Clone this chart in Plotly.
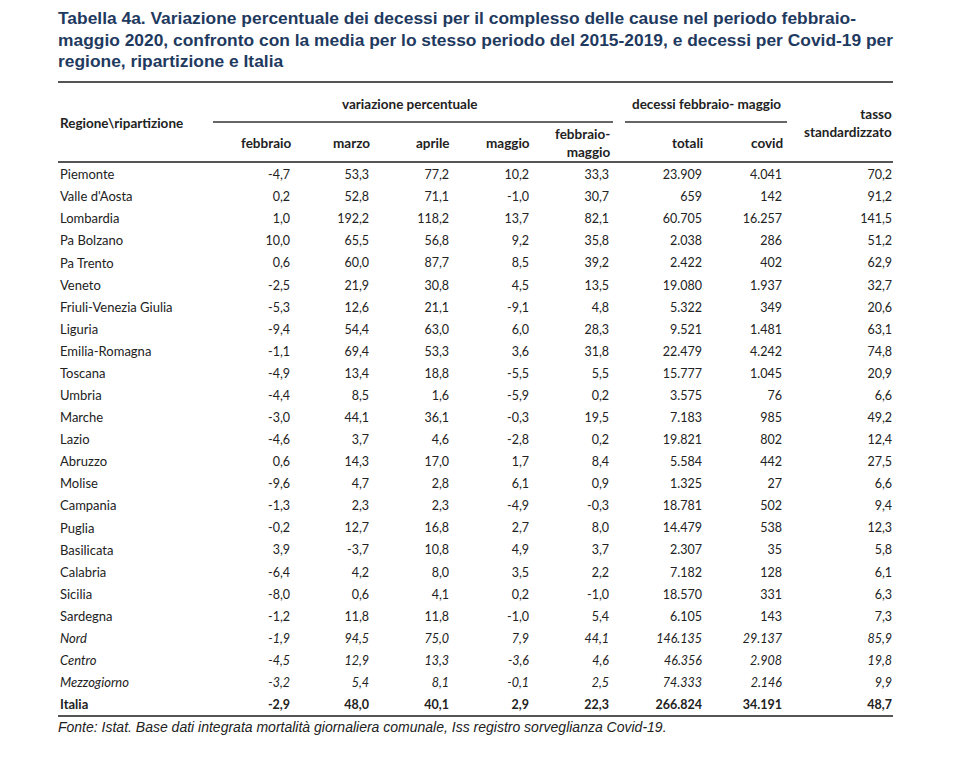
import plotly.graph_objects as go

# ---------------- data ----------------
regions = ["Piemonte", "Valle d'Aosta", "Lombardia", "Pa Bolzano", "Pa Trento", "Veneto",
           "Friuli-Venezia Giulia", "Liguria", "Emilia-Romagna", "Toscana", "Umbria", "Marche",
           "Lazio", "Abruzzo", "Molise", "Campania", "Puglia", "Basilicata", "Calabria",
           "Sicilia", "Sardegna", "Nord", "Centro", "Mezzogiorno", "Italia"]
row_kind = ["normal"] * 21 + ["italic"] * 3 + ["bold"]

febbraio = [-4.7, 0.2, 1.0, 10.0, 0.6, -2.5, -5.3, -9.4, -1.1, -4.9, -4.4, -3.0, -4.6, 0.6, -9.6,
            -1.3, -0.2, 3.9, -6.4, -8.0, -1.2, -1.9, -4.5, -3.2, -2.9]
marzo = [53.3, 52.8, 192.2, 65.5, 60.0, 21.9, 12.6, 54.4, 69.4, 13.4, 8.5, 44.1, 3.7, 14.3, 4.7,
         2.3, 12.7, -3.7, 4.2, 0.6, 11.8, 94.5, 12.9, 5.4, 48.0]
aprile = [77.2, 71.1, 118.2, 56.8, 87.7, 30.8, 21.1, 63.0, 53.3, 18.8, 1.6, 36.1, 4.6, 17.0, 2.8,
          2.3, 16.8, 10.8, 8.0, 4.1, 11.8, 75.0, 13.3, 8.1, 40.1]
maggio = [10.2, -1.0, 13.7, 9.2, 8.5, 4.5, -9.1, 6.0, 3.6, -5.5, -5.9, -0.3, -2.8, 1.7, 6.1,
          -4.9, 2.7, 4.9, 3.5, 0.2, -1.0, 7.9, -3.6, -0.1, 2.9]
febbraio_maggio = [33.3, 30.7, 82.1, 35.8, 39.2, 13.5, 4.8, 28.3, 31.8, 5.5, 0.2, 19.5, 0.2, 8.4,
                   0.9, -0.3, 8.0, 3.7, 2.2, -1.0, 5.4, 44.1, 4.6, 2.5, 22.3]
totali = [23909, 659, 60705, 2038, 2422, 19080, 5322, 9521, 22479, 15777, 3575, 7183, 19821, 5584,
          1325, 18781, 14479, 2307, 7182, 18570, 6105, 146135, 46356, 74333, 266824]
covid = [4041, 142, 16257, 286, 402, 1937, 349, 1481, 4242, 1045, 76, 985, 802, 442, 27, 502, 538,
         35, 128, 331, 143, 29137, 2908, 2146, 34191]
tasso = [70.2, 91.2, 141.5, 51.2, 62.9, 32.7, 20.6, 63.1, 74.8, 20.9, 6.6, 49.2, 12.4, 27.5, 6.6,
         9.4, 12.3, 5.8, 6.1, 6.3, 7.3, 85.9, 19.8, 9.9, 48.7]

col_headers = ["febbraio", "marzo", "aprile", "maggio", "febbraio-<br>maggio", "totali", "covid"]
group_headers = ["variazione percentuale", "decessi febbraio- maggio"]
title_lines = [
    "Tabella 4a. Variazione percentuale dei decessi per il complesso delle cause nel periodo febbraio-",
    "maggio 2020, confronto con la media per lo stesso periodo del 2015-2019, e decessi per Covid-19 per",
    "regione, ripartizione e Italia",
]
source_text = "Fonte: Istat. Base dati integrata mortalità giornaliera comunale, Iss registro sorveglianza Covid-19."

# ---------------- layout helpers ----------------
PAGE_MARGIN = 8           # default body margin of the html page
W, H = 977 - 2 * PAGE_MARGIN, 768 - 2 * PAGE_MARGIN
ROW0, ROW_H = 176, 22.08
LEFT, RIGHT = 58, 893
BODY_FONT = "Lato"
INK = "#222222"
TITLE_COLOR = "#1f3a5f"

row_y = [ROW0 + i * ROW_H for i in range(len(regions))]


def fmt_dec(v):
    return f"{v:.1f}".replace(".", ",")


def fmt_int(v):
    return f"{v:,}".replace(",", ".")


def styled(s, kind):
    if kind == "italic":
        return f"<i>{s}</i>"
    if kind == "bold":
        return f"<b>{s}</b>"
    return s


fig = go.Figure()

# region names
fig.add_trace(go.Scatter(
    x=[LEFT + 2] * len(regions), y=row_y, mode="text",
    text=[styled(r, k) for r, k in zip(regions, row_kind)],
    textposition="middle right", cliponaxis=False, hoverinfo="skip",
    textfont=dict(family=BODY_FONT, size=13, color=INK)))

columns = [
    (febbraio, fmt_dec, 290),
    (marzo, fmt_dec, 369),
    (aprile, fmt_dec, 449),
    (maggio, fmt_dec, 529),
    (febbraio_maggio, fmt_dec, 609),
    (totali, fmt_int, 702),
    (covid, fmt_int, 782),
    (tasso, fmt_dec, 892),
]
for values, fmt, xr in columns:
    fig.add_trace(go.Scatter(
        x=[xr] * len(values), y=row_y, mode="text",
        text=[styled(fmt(v), k) for v, k in zip(values, row_kind)],
        textposition="middle left", cliponaxis=False, hoverinfo="skip",
        textfont=dict(family=BODY_FONT, size=12.5, color=INK)))

annotations = []
# title
for yy, line in zip([18, 40, 61], title_lines):
    annotations.append(dict(x=LEFT - 1, y=yy, text=f"<b>{line}</b>", xanchor="left", yanchor="middle",
                            align="left", showarrow=False, borderpad=0,
                            font=dict(family="Liberation Sans", size=17.4, color=TITLE_COLOR)))
# header texts
hdr_font = dict(family=BODY_FONT, size=13.5, color=INK)
annotations.append(dict(x=59, y=123, text="<b>Regione\\ripartizione</b>", xanchor="left",
                        showarrow=False, borderpad=0, font=hdr_font))
annotations.append(dict(x=410, y=104, text=f"<b>{group_headers[0]}</b>", xanchor="center",
                        showarrow=False, font=hdr_font))
annotations.append(dict(x=706, y=104, text=f"<b>{group_headers[1]}</b>", xanchor="center",
                        showarrow=False, font=hdr_font))
for (values, fmt, xr), h in zip(columns[:7], col_headers):
    annotations.append(dict(x=xr + 2, y=143, text=f"<b>{h}</b>", xanchor="right", align="right",
                            showarrow=False, borderpad=0, font=hdr_font))
annotations.append(dict(x=893, y=123, text="<b>tasso<br>standardizzato</b>", xanchor="right",
                        align="right", showarrow=False, borderpad=0, font=hdr_font))
# source
annotations.append(dict(x=LEFT - 1, y=727, text=f"<i>{source_text}</i>", xanchor="left",
                        showarrow=False, borderpad=0,
                        font=dict(family="Liberation Sans", size=14, color=INK)))

shapes = [
    dict(type="line", x0=LEFT, x1=RIGHT, y0=82, y1=82, line=dict(color="#555555", width=2)),
    dict(type="line", x0=213, x1=613, y0=122, y1=122, line=dict(color="#333333", width=1.5)),
    dict(type="line", x0=625, x1=787, y0=122, y1=122, line=dict(color="#333333", width=1.5)),
    dict(type="line", x0=LEFT, x1=RIGHT, y0=162, y1=162, line=dict(color="#555555", width=2)),
    dict(type="line", x0=LEFT, x1=RIGHT, y0=716, y1=716, line=dict(color="#555555", width=2)),
]

fig.update_layout(
    width=W, height=H, margin=dict(l=0, r=0, t=0, b=0),
    paper_bgcolor="white", plot_bgcolor="white", showlegend=False,
    xaxis=dict(range=[PAGE_MARGIN, PAGE_MARGIN + W], visible=False, fixedrange=True),
    yaxis=dict(range=[PAGE_MARGIN + H, PAGE_MARGIN], visible=False, fixedrange=True),
    annotations=annotations, shapes=shapes,
)

fig.write_html("out.html")
